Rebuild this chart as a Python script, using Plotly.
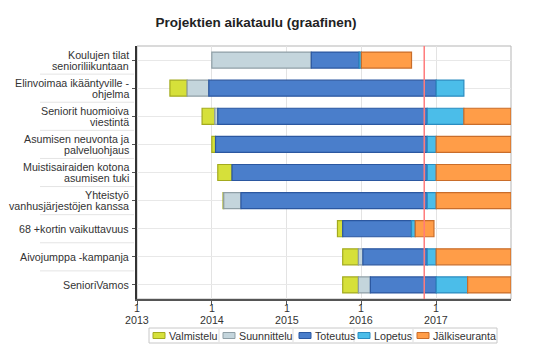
import plotly.graph_objects as go

categories = [
    "Koulujen tilat<br>senioriliikuntaan",
    "Elinvoimaa ikääntyville -<br>ohjelma",
    "Seniorit huomioiva<br>viestintä",
    "Asumisen neuvonta ja<br>palveluohjaus",
    "Muistisairaiden kotona<br>asumisen tuki",
    "Yhteistyö<br>vanhusjärjestöjen kanssa",
    "68 +kortin vaikuttavuus",
    "Aivojumppa -kampanja",
    "SenioriVamos",
]

phases = ["Valmistelu", "Suunnittelu", "Toteutus", "Lopetus", "Jälkiseuranta"]

# start / end of each phase, in fractional years (None = phase absent)
valmistelu_start = [None, 2013.44, 2013.87, 2014.00, 2014.08, 2014.15, 2015.68, 2015.75, 2015.75]
valmistelu_end = [None, 2013.67, 2014.04, 2014.05, 2014.27, 2014.16, 2015.75, 2015.96, 2015.96]
suunnittelu_start = [2014.00, 2013.67, 2014.04, None, None, 2014.16, None, 2015.96, 2015.96]
suunnittelu_end = [2015.33, 2013.96, 2014.08, None, None, 2014.39, None, 2016.02, 2016.12]
toteutus_start = [2015.33, 2013.96, 2014.08, 2014.05, 2014.27, 2014.39, 2015.75, 2016.02, 2016.12]
toteutus_end = [2015.97, 2017.00, 2016.88, 2016.88, 2016.88, 2016.88, 2016.67, 2016.88, 2017.00]
lopetus_start = [2015.97, 2017.00, 2016.88, 2016.88, 2016.88, 2016.88, 2016.67, 2016.88, 2017.00]
lopetus_end = [2016.00, 2017.37, 2017.37, 2017.00, 2017.00, 2017.00, 2016.72, 2017.00, 2017.42]
jalki_start = [2016.00, None, 2017.37, 2017.00, 2017.00, 2017.00, 2016.72, 2017.00, 2017.42]
jalki_end = [2016.67, None, 2018.00, 2018.00, 2018.00, 2018.00, 2016.97, 2018.00, 2018.00]

today = 2016.84

tick_years = [2013, 2014, 2015, 2016, 2017]
tick_day = ["1", "1", "1", "1", "1"]
tick_year_labels = ["2013", "2014", "2015", "2016", "2017"]

starts = [valmistelu_start, suunnittelu_start, toteutus_start, lopetus_start, jalki_start]
ends = [valmistelu_end, suunnittelu_end, toteutus_end, lopetus_end, jalki_end]
fills = ["#d6e03a", "#c4d5dc", "#4a7ecb", "#4bbde9", "#ff9d48"]
lines = ["#a3aa1e", "#8f9fa6", "#2b57a0", "#2a8cc0", "#c96d2a"]

# the page body has an 8px margin, so the figure is drawn 8px in from the top-left
OFF = 8
W, H = 538 - OFF, 356 - OFF
L, R, T, B = 137 - OFF, 27, 46 - OFF, 57
PW, PH = W - L - R, H - T - B


def px_x(p):
    """window pixel x -> paper x"""
    return (p - OFF - L) / PW


def px_y(p):
    """window pixel y -> paper y"""
    return (H - B - (p - OFF)) / PH


FONT = "Liberation Sans, Arial, sans-serif"
TXT = "#333333"

fig = go.Figure()
for name, s, e, fc, lc in zip(phases, starts, ends, fills, lines):
    xs, bs = [], []
    for a, b in zip(s, e):
        if a is None:
            xs.append(None)
            bs.append(None)
        else:
            xs.append(b - a)
            bs.append(a)
    fig.add_trace(go.Bar(
        name=name, y=categories, x=xs, base=bs, orientation="h",
        marker=dict(color=fc, line=dict(color=lc, width=1.2)),
        width=0.57, showlegend=False,
    ))

fig.add_shape(type="line", xref="x", yref="paper", x0=today, x1=today, y0=0, y1=1,
              line=dict(color="#ff7b7b", width=1.5))

# label separators in the category label area
n = len(categories)
for i in range(1, n):
    yy = 1 - i / n
    fig.add_shape(type="line", xref="paper", yref="paper", x0=px_x(40), x1=px_x(134),
                  y0=yy, y1=yy, line=dict(color="#e4e4e4", width=1))
fig.add_shape(type="rect", xref="paper", yref="paper", x0=0, x1=1, y0=0, y1=1,
              line=dict(color="#b5b5b5", width=1), layer="below")

# category labels (two-line, tight spacing)
for c in categories:
    parts = c.split("<br>")
    k = len(parts)
    for j, part in enumerate(parts):
        shift = (k - 1) * 5.5 - j * 11
        fig.add_annotation(x=px_x(131), xref="paper", y=c, yref="y", text=part,
                           showarrow=False, xanchor="right", yanchor="middle",
                           yshift=shift, font=dict(family=FONT, size=10.7, color=TXT))

# x tick labels (day line + year line, tight spacing)
for xv, d, yl in zip(tick_years, tick_day, tick_year_labels):
    fig.add_annotation(x=xv, xref="x", y=px_y(308), yref="paper", text=d, showarrow=False,
                       xanchor="center", yanchor="middle",
                       font=dict(family=FONT, size=10.7, color=TXT))
    fig.add_annotation(x=xv, xref="x", y=px_y(320), yref="paper", text=yl, showarrow=False,
                       xanchor="center", yanchor="middle",
                       font=dict(family=FONT, size=10.7, color=TXT))

# custom legend
leg_top, leg_bot = 328, 343
fig.add_shape(type="rect", xref="paper", yref="paper", x0=px_x(149), x1=px_x(497),
              y0=px_y(leg_bot), y1=px_y(leg_top), line=dict(color="#c8c8c8", width=1),
              fillcolor="white")
sw_x = [153, 223, 299, 358, 417]
seps = [219, 293, 354, 413]
for sx in seps:
    fig.add_shape(type="line", xref="paper", yref="paper", x0=px_x(sx), x1=px_x(sx),
                  y0=px_y(leg_bot - 1), y1=px_y(leg_top + 1),
                  line=dict(color="#dddddd", width=1))
ly = 335.5
for name, sx, fc, lc in zip(phases, sw_x, fills, lines):
    fig.add_shape(type="rect", xref="paper", yref="paper", x0=px_x(sx), x1=px_x(sx + 12),
                  y0=px_y(ly + 3), y1=px_y(ly - 3), fillcolor=fc, line=dict(color=lc, width=1))
    fig.add_annotation(x=px_x(sx + 13.5), xref="paper", y=px_y(ly), yref="paper", text=name,
                       showarrow=False, xanchor="left", yanchor="middle",
                       font=dict(family=FONT, size=10.7, color=TXT))

fig.update_layout(
    width=W, height=H,
    margin=dict(l=L, r=R, t=T, b=B),
    paper_bgcolor="white", plot_bgcolor="white",
    barmode="overlay",
    font=dict(family=FONT, size=11, color=TXT),
    title=dict(text="<b>Projektien aikataulu (graafinen)</b>", x=(256 - OFF) / W,
               xanchor="center", xref="container", y=1 - (22 - OFF) / H, yref="container",
               yanchor="middle", font=dict(size=13.5, color="#222222")),
    xaxis=dict(range=[2013, 2018], tickvals=tick_years,
               showgrid=True, gridcolor="#e3e3e3", gridwidth=1,
               showline=True, linecolor="#555555", linewidth=1.5,
               ticks="outside", ticklen=4, tickcolor="#555555",
               zeroline=False, automargin=False, showticklabels=False),
    yaxis=dict(categoryorder="array", categoryarray=categories, autorange="reversed",
               showgrid=True, gridcolor="#e8e8e8", gridwidth=1,
               showline=True, linecolor="#333333", linewidth=1.5,
               ticks="outside", ticklen=3, tickcolor="#555555",
               showticklabels=False, automargin=False),
    showlegend=False,
)

fig.write_html("out.html")
